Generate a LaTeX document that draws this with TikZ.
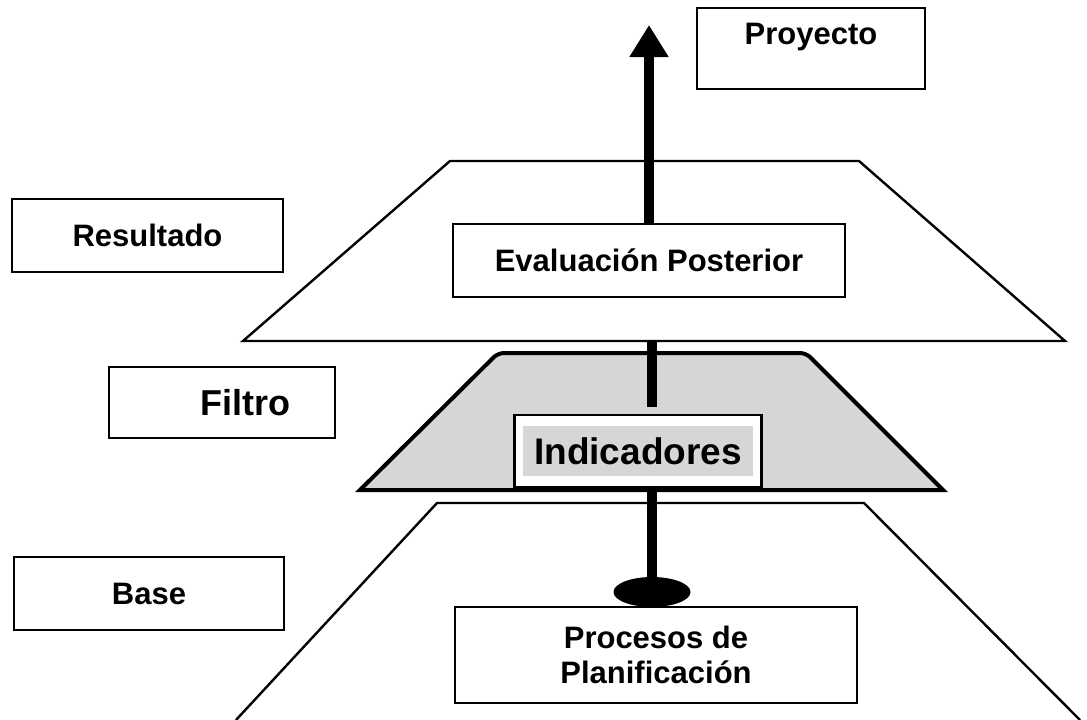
\documentclass[tikz,border=0pt]{standalone}
\usepackage{fontspec}
\setmainfont{Liberation Sans}
\usetikzlibrary{arrows.meta}
\usetikzlibrary{shapes.geometric}

\begin{document}
\begin{tikzpicture}[x=1pt,y=-1pt,
  box/.style={draw,line width=2.8pt,fill=white,inner sep=6pt,font=\fontsize{31}{35}\selectfont\bfseries},
  layer/.style={draw,line width=2.4pt,line join=miter},
  shaft/.style={line width=10pt}]
\useasboundingbox (0,0) rectangle (1087,720);

\draw[layer,fill=white] (243,341) -- (450,161) -- (859,161) -- (1065,341) -- cycle;
\draw[layer,line width=4pt,fill=gray!32] (360,490) [rounded corners=6pt] -- (498,353) -- (806,353) [sharp corners] -- (943,490) -- cycle;
\draw[layer] (236,720) -- (437,503) -- (864,503) -- (1080,720);

\node[box,minimum width=228,minimum height=81,text depth=29pt] (proy) at (811,48.5) {Proyecto};
\node[box,minimum width=271,minimum height=73] (res) at (147.5,235.5) {Resultado};
\node[box,minimum width=226,minimum height=71,font=\fontsize{36}{40}\selectfont\bfseries] (fil) at (222,402.5) {\hspace*{46pt}Filtro};
\node[box,minimum width=270,minimum height=73] (base) at (149,593.5) {Base};

\node[box,minimum width=392,minimum height=73] (eval) at (649,260.5) {Evaluación Posterior};
\node[box,inner xsep=9pt,inner ysep=0pt,minimum height=72,font=\fontsize{37}{40}\selectfont\bfseries] (ind) at (638,451) {\setlength{\fboxsep}{11pt}\colorbox{gray!32}{Indicadores}};
\node[box,align=center,minimum width=402,minimum height=96] (proc) at (656,655) {Procesos de\\Planificación};

\coordinate (tip) at (649,25);
\coordinate (midtop) at (652,341);
\coordinate (midbot) at (652,407);
\node[ellipse,fill,minimum width=77,minimum height=30,inner sep=0pt] (tail) at (652,592) {};

\draw[shaft,-{Triangle[length=32pt,width=37pt]}] (eval.north) -- (tip);
\draw[shaft] (midtop) -- (midbot);
\draw[shaft] (tail.center) -- (tail.center |- ind.south);
\end{tikzpicture}
\end{document}
